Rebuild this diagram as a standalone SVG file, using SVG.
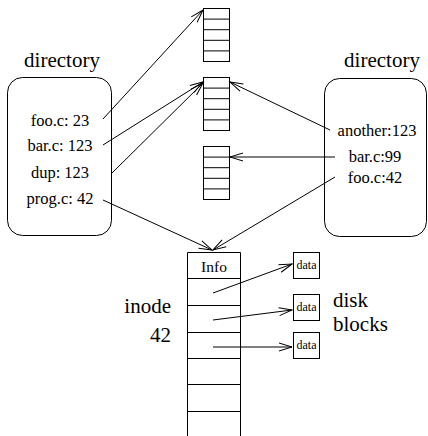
<svg xmlns="http://www.w3.org/2000/svg" width="428" height="436" viewBox="0 0 428 436">
  <defs>
    <marker id="head" markerUnits="userSpaceOnUse" markerWidth="16" markerHeight="12" refX="0" refY="0" viewBox="-15 -6 16 12" orient="auto" overflow="visible">
      <path d="M-13,-4 L0,0 L-13,4" fill="none" stroke="#000" stroke-width="1"/>
    </marker>
    <!-- a column of five disk blocks -->
    <g id="stack5" fill="none" stroke="#000" stroke-width="1">
      <rect x="0" y="0" width="26" height="53"/>
      <path d="M0,10.6 H26 M0,21.2 H26 M0,31.8 H26 M0,42.4 H26"/>
    </g>
  </defs>

  <!-- left directory -->
  <g id="dir-left" fill="#000">
    <text x="62" y="67" font-family="Liberation Serif" font-size="21" text-anchor="middle">directory</text>
    <rect x="7.5" y="77.5" width="104" height="158" rx="15" fill="none" stroke="#000"/>
    <text x="60" y="125.5" font-family="Liberation Serif" font-size="16.5" text-anchor="middle">foo.c: 23</text>
    <text x="60" y="150.5" font-family="Liberation Serif" font-size="16.5" text-anchor="middle">bar.c: 123</text>
    <text x="60" y="177.5" font-family="Liberation Serif" font-size="16.5" text-anchor="middle">dup: 123</text>
    <text x="60" y="204" font-family="Liberation Serif" font-size="16.5" text-anchor="middle">prog.c: 42</text>
  </g>

  <!-- right directory -->
  <g id="dir-right" fill="#000">
    <text x="382" y="67" font-family="Liberation Serif" font-size="21" text-anchor="middle">directory</text>
    <rect x="324.5" y="78.5" width="102" height="158" rx="15" fill="none" stroke="#000"/>
    <text x="377" y="135.5" font-family="Liberation Serif" font-size="16.5" text-anchor="middle">another:123</text>
    <text x="375" y="161.5" font-family="Liberation Serif" font-size="16.5" text-anchor="middle">bar.c:99</text>
    <text x="375" y="183" font-family="Liberation Serif" font-size="16.5" text-anchor="middle">foo.c:42</text>
  </g>

  <!-- file data blocks -->
  <g id="blocks-1"><use href="#stack5" x="203.5" y="8.5"/></g>
  <g id="blocks-2"><use href="#stack5" x="203.5" y="77.5"/></g>
  <g id="blocks-3"><use href="#stack5" x="203.5" y="146.5"/></g>

  <!-- inode 42 -->
  <g id="inode" fill="#000">
    <path d="M187.5,436 V252.5 H240.5 V436 M187.5,278.5 H240.5 M187.5,305.5 H240.5 M187.5,332.5 H240.5 M187.5,358.5 H240.5 M187.5,384.5 H240.5 M187.5,411.5 H240.5" fill="none" stroke="#000"/>
    <text x="214" y="272" font-family="Liberation Serif" font-size="15.5" text-anchor="middle">Info</text>
    <text x="171" y="313" font-family="Liberation Serif" font-size="21" text-anchor="end">inode</text>
    <text x="171" y="342" font-family="Liberation Serif" font-size="21" text-anchor="end">42</text>
  </g>

  <!-- disk blocks -->
  <g id="disk-blocks" fill="#000">
    <g fill="none" stroke="#000">
      <rect x="293.5" y="252.5" width="26" height="26"/>
      <rect x="293.5" y="294.5" width="26" height="26"/>
      <rect x="293.5" y="332.5" width="26" height="26"/>
    </g>
    <text x="306.5" y="269" font-family="Liberation Serif" font-size="12" text-anchor="middle">data</text>
    <text x="306.5" y="311" font-family="Liberation Serif" font-size="12" text-anchor="middle">data</text>
    <text x="306.5" y="349" font-family="Liberation Serif" font-size="12" text-anchor="middle">data</text>
    <text x="333" y="307" font-family="Liberation Serif" font-size="21">disk</text>
    <text x="333" y="331" font-family="Liberation Serif" font-size="21">blocks</text>
  </g>

  <!-- connectors -->
  <g id="connectors" fill="none" stroke="#000" stroke-width="1" marker-end="url(#head)">
    <line x1="103" y1="119" x2="203" y2="10"/>
    <line x1="103" y1="145" x2="203" y2="82"/>
    <line x1="112" y1="173" x2="203" y2="83"/>
    <line x1="103" y1="200" x2="212" y2="250"/>
    <line x1="330" y1="130" x2="230" y2="82"/>
    <line x1="335" y1="157" x2="230" y2="157"/>
    <line x1="335" y1="177" x2="213" y2="250"/>
    <line x1="213" y1="293" x2="292" y2="264"/>
    <line x1="213" y1="320" x2="292" y2="310"/>
    <line x1="213" y1="347" x2="292" y2="347"/>
  </g>
</svg>
